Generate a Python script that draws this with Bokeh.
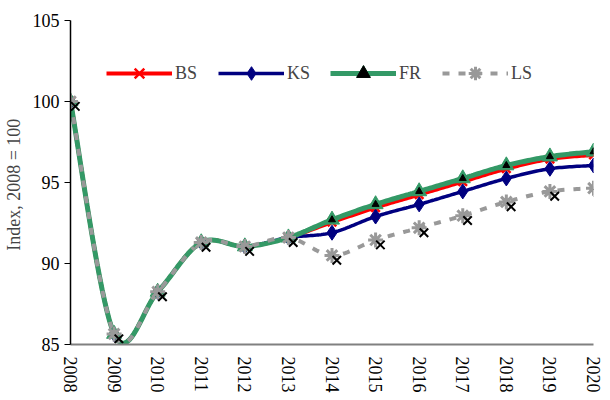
import numpy as np
from bokeh.plotting import figure
from bokeh.models import ColumnDataSource, FixedTicker, Legend, LegendItem, Range1d
from bokeh.transform import dodge
from bokeh.embed import file_html
from bokeh.resources import INLINE

years = [2008, 2009, 2010, 2011, 2012, 2013, 2014, 2015, 2016, 2017, 2018, 2019, 2020]
bs = [100, 85.65, 88.25, 91.3, 91.05, 91.6, 92.55, 93.45, 94.25, 95.05, 95.85, 96.45, 96.7]
ks = [100, 85.65, 88.25, 91.3, 91.05, 91.6, 91.9, 92.9, 93.65, 94.45, 95.25, 95.85, 96.05]
fr = [100, 85.65, 88.25, 91.3, 91.05, 91.6, 92.7, 93.65, 94.45, 95.25, 96.05, 96.6, 96.9]
ls = [100, 85.65, 88.25, 91.3, 91.05, 91.6, 90.5, 91.45, 92.2, 92.95, 93.8, 94.45, 94.65]
y_ticks = [85, 90, 95, 100, 105]

FONT = "'Liberation Serif', 'Times New Roman', serif"


def smooth(xs, ys, n=20):
    """Excel-like smoothed line (Catmull-Rom Bezier) through the data points."""
    pts = np.column_stack([xs, ys]).astype(float)
    m = len(pts)
    out = [pts[0]]
    for i in range(m - 1):
        p0 = pts[i - 1] if i > 0 else pts[i]
        p1 = pts[i]
        p2 = pts[i + 1]
        p3 = pts[i + 2] if i + 2 < m else pts[i + 1]
        c1 = p1 + (p2 - p0) / 6.0
        c2 = p2 - (p3 - p1) / 6.0
        for t in np.linspace(0, 1, n + 1)[1:]:
            b = ((1 - t) ** 3) * p1 + 3 * ((1 - t) ** 2) * t * c1 + 3 * (1 - t) * t * t * c2 + (t ** 3) * p2
            out.append(b)
    out = np.array(out)
    return out[:, 0], out[:, 1]


src = ColumnDataSource(dict(year=years, bs=bs, ks=ks, fr=fr, ls=ls))

p = figure(width=602, height=395, output_backend="svg", toolbar_location=None,
           x_range=Range1d(2008, 2020), y_range=Range1d(85, 105),
           min_border_left=68, min_border_right=9, min_border_top=20, min_border_bottom=44)
p.outline_line_color = None
p.xgrid.visible = False
p.ygrid.visible = False

RED = "#FF0000"
NAVY = "#000080"
GREEN = "#339966"
GRAY = "#999999"

sx, sy = smooth(years, bs)
l_bs = p.line(sx, sy, color=RED, line_width=4)
sx, sy = smooth(years, ks)
l_ks = p.line(sx, sy, color=NAVY, line_width=3.5)
sx, sy = smooth(years, fr)
l_fr = p.line(sx, sy, color=GREEN, line_width=5)
sx, sy = smooth(years, ls)
l_ls = p.line(sx, sy, color=GRAY, line_width=4, line_dash="7 9")

m_bs = p.scatter("year", "bs", source=src, marker="x", size=12, line_color=RED, line_width=2.5)
m_ks = p.scatter("year", "ks", source=src, marker="diamond", size=15, fill_color=NAVY, line_color=NAVY)
m_fr = p.scatter("year", "fr", source=src, marker="triangle", size=15, fill_color=GREEN, line_color=GREEN)
m_fr2 = p.scatter("year", "fr", source=src, marker="triangle", size=7, fill_color="black", line_color="black")
m_ls = p.scatter("year", "ls", source=src, marker="asterisk", size=15, line_color=GRAY, line_width=3)
p.scatter(dodge("year", 0.11), dodge("ls", -0.3), source=src, marker="x", size=12,
          line_color="black", line_width=2)

legend = Legend(items=[
    LegendItem(label="BS", renderers=[l_bs, m_bs]),
    LegendItem(label="KS", renderers=[l_ks, m_ks]),
    LegendItem(label="FR", renderers=[l_fr, m_fr, m_fr2]),
    LegendItem(label="LS", renderers=[l_ls, m_ls]),
], orientation="horizontal", location=(36, 254), border_line_color=None,
    background_fill_alpha=0, glyph_width=66, glyph_height=34, label_standoff=3,
    label_width=40, spacing=3, padding=0, margin=0,
    label_text_font=FONT, label_text_font_size="18px")
p.add_layout(legend)

# axes
p.xaxis.ticker = FixedTicker(ticks=years)
p.xaxis.major_label_orientation = "vertical"
p.xaxis.major_label_text_font = FONT
p.xaxis.major_label_text_font_size = "18px"
p.xaxis.major_label_text_color = "black"
p.xaxis.axis_line_color = "#808080"
p.xaxis.axis_line_width = 2
p.xaxis.major_tick_line_color = None
p.xaxis.minor_tick_line_color = None
p.xaxis.major_label_standoff = 6

p.yaxis.ticker = FixedTicker(ticks=y_ticks)
p.yaxis.major_label_text_font = FONT
p.yaxis.major_label_text_font_size = "18px"
p.yaxis.major_label_text_color = "black"
p.yaxis.axis_line_color = "black"
p.yaxis.axis_line_width = 1.5
p.yaxis.major_tick_line_color = "black"
p.yaxis.major_tick_out = 6
p.yaxis.major_tick_in = 0
p.yaxis.minor_tick_line_color = None
p.yaxis.major_label_standoff = 5
p.yaxis.axis_label = "Index,  2008 = 100"
p.yaxis.axis_label_text_font = FONT
p.yaxis.axis_label_text_font_size = "18px"
p.yaxis.axis_label_text_font_style = "normal"
p.yaxis.axis_label_standoff = 6

open("out.html", "w").write(file_html(p, INLINE))
